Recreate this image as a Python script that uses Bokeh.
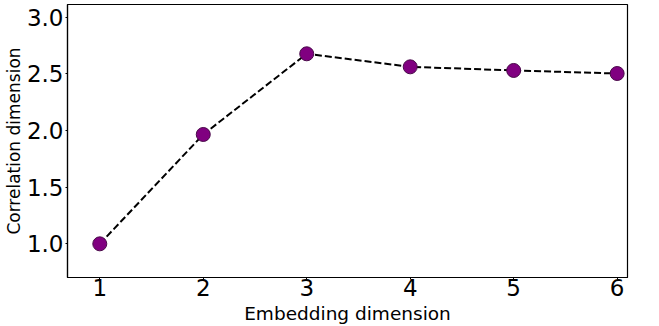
from bokeh.plotting import figure
from bokeh.models import Range1d, FixedTicker, CustomJSTickFormatter
from bokeh.embed import file_html
from bokeh.resources import INLINE

# Data
embedding_dim = [1, 2, 3, 4, 5, 6]
correlation_dim = [1.00, 1.965, 2.677, 2.562, 2.530, 2.503]
x_ticks = [1, 2, 3, 4, 5, 6]
y_ticks = [1.0, 1.5, 2.0, 2.5, 3.0]
x_title = "Embedding dimension"
y_title = "Correlation dimension"

p = figure(width=659, height=326, output_backend="svg", toolbar_location=None,
           x_range=Range1d(0.688, 6.10), y_range=Range1d(0.703, 3.112),
           min_border_left=67, min_border_right=32, min_border_top=4, min_border_bottom=49)

p.line(embedding_dim, correlation_dim, line_color="black", line_width=2, line_dash="7 3")
p.scatter(embedding_dim, correlation_dim, size=14, fill_color="#800080", line_color="#4a0a4a", line_width=1)

p.xgrid.visible = False
p.ygrid.visible = False
p.outline_line_color = "black"
p.outline_line_width = 1.2
p.background_fill_color = "white"
p.border_fill_color = "white"

p.xaxis.ticker = FixedTicker(ticks=x_ticks)
p.yaxis.ticker = FixedTicker(ticks=y_ticks)
p.yaxis.formatter = CustomJSTickFormatter(code="return tick.toFixed(1);")

for ax in (p.xaxis[0], p.yaxis[0]):
    ax.axis_line_color = "black"
    ax.axis_line_width = 1.2
    ax.major_tick_out = 2
    ax.major_tick_in = 0
    ax.major_tick_line_color = "black"
    ax.minor_tick_line_color = None
    ax.major_label_text_font = "DejaVu Sans"
    ax.major_label_text_font_size = "23px"
    ax.major_label_text_color = "black"
    ax.axis_label_text_font = "DejaVu Sans"
    ax.axis_label_text_font_style = "normal"
    ax.axis_label_text_color = "black"

p.xaxis.axis_label = x_title
p.yaxis.axis_label = y_title
p.xaxis.axis_label_text_font_size = "18.5px"
p.yaxis.axis_label_text_font_size = "17px"
p.xaxis.major_label_standoff = -1
p.xaxis.axis_label_standoff = 4
p.yaxis.major_label_standoff = 2
p.yaxis.axis_label_standoff = 0

open("out.html", "w").write(file_html(p, INLINE))
